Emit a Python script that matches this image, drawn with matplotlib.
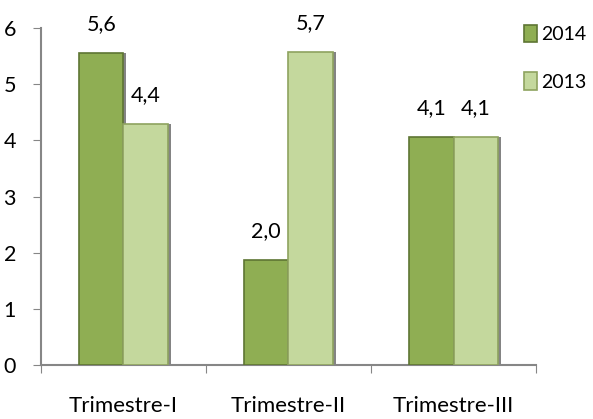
import numpy as np
import matplotlib
matplotlib.use('Agg')
import matplotlib.pyplot as plt

plt.rcParams['font.family'] = ['Lato', 'DejaVu Sans']

# données
categories = ['Trimestre-I', 'Trimestre-II', 'Trimestre-III']
series = ['2014', '2013']
val_2014 = [5.55, 1.87, 4.06]
val_2013 = [4.29, 5.57, 4.06]
lab_2014 = ['5,6', '2,0', '4,1']
lab_2013 = ['4,4', '5,7', '4,1']
yticks = [0, 1, 2, 3, 4, 5, 6]

fig = plt.figure(figsize=(5.93, 4.19), dpi=100)
ax = fig.add_axes([0.069, 0.129, 0.835, 0.804])

x = np.arange(len(categories))
w = 0.27

couleurs = {'2014': ('#8fae53', '#5e7533'), '2013': ('#c4d89d', '#8ea35f')}

for vals, labs, dx, nom in [(val_2014, lab_2014, -w / 2, '2014'),
                            (val_2013, lab_2013, w / 2, '2013')]:
    fc, ec = couleurs[nom]
    # ombre à droite
    ax.bar(x + dx + 0.016, vals, w, color='#333333', alpha=0.6, zorder=2)
    ax.bar(x + dx, vals, w, color=fc, edgecolor=ec, lw=1.2, zorder=3, label=nom)
    for xi, v, t in zip(x + dx, vals, labs):
        ax.annotate(t, (xi, v), xytext=(0, 29), textcoords='offset pixels',
                    ha='center', va='center', fontsize=15.5)

ax.set_xlim(-0.5, len(categories) - 0.5)
ax.set_ylim(0, 6)
ax.set_yticks(yticks)
ax.set_yticklabels([str(t) for t in yticks], fontsize=15.5)

# ticks de séparation des catégories
ax.set_xticks(np.arange(len(categories) + 1) - 0.5)
ax.set_xticklabels([])
ax.set_xticks(x, minor=True)
ax.set_xticklabels(categories, minor=True, fontsize=16)
ax.tick_params(axis='x', which='minor', length=0, pad=22)
ax.tick_params(axis='x', which='major', length=6, color='#868686', direction='out')
ax.tick_params(axis='y', length=6, color='#868686', pad=12)

for s in ['top', 'right']:
    ax.spines[s].set_visible(False)
for s in ['left', 'bottom']:
    ax.spines[s].set_color('#868686')
    ax.spines[s].set_linewidth(1.5)

ax.legend(loc='upper left', bbox_to_anchor=(0.975, 1.01), frameon=False,
          fontsize=14, handlelength=0.7, handleheight=1.0, handletextpad=0.2,
          labelspacing=1.5, borderaxespad=0, borderpad=0)

plt.savefig('out.png', dpi=100)
plt.close()
